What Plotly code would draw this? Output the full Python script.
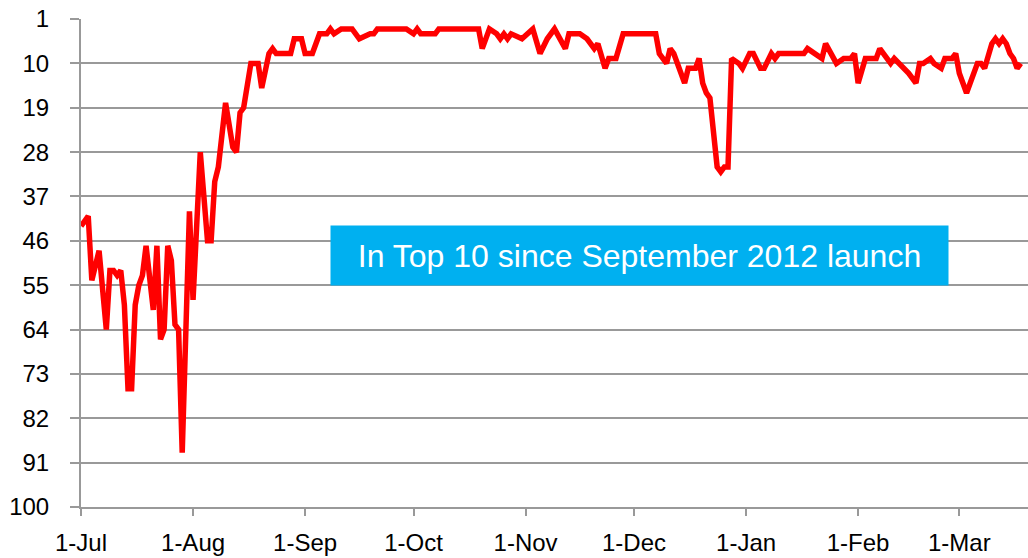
import plotly.graph_objects as go

dates = [
    "2012-07-01", "2012-07-03", "2012-07-04", "2012-07-06", "2012-07-08", "2012-07-09",
    "2012-07-10", "2012-07-11", "2012-07-12", "2012-07-13", "2012-07-14", "2012-07-15",
    "2012-07-16", "2012-07-17", "2012-07-18", "2012-07-19", "2012-07-21", "2012-07-22",
    "2012-07-23", "2012-07-24", "2012-07-25", "2012-07-26", "2012-07-27", "2012-07-28",
    "2012-07-29", "2012-07-31", "2012-08-01", "2012-08-03", "2012-08-05", "2012-08-06",
    "2012-08-07", "2012-08-08", "2012-08-10", "2012-08-12", "2012-08-13", "2012-08-14",
    "2012-08-15", "2012-08-17", "2012-08-19", "2012-08-20", "2012-08-22", "2012-08-23",
    "2012-08-24", "2012-08-28", "2012-08-29", "2012-08-31", "2012-09-01", "2012-09-03",
    "2012-09-05", "2012-09-07", "2012-09-08", "2012-09-09", "2012-09-11", "2012-09-14",
    "2012-09-16", "2012-09-19", "2012-09-20", "2012-09-21", "2012-09-29", "2012-10-01",
    "2012-10-02", "2012-10-03", "2012-10-07", "2012-10-08", "2012-10-19", "2012-10-20",
    "2012-10-22", "2012-10-24", "2012-10-25", "2012-10-26", "2012-10-27", "2012-10-28",
    "2012-10-31", "2012-11-03", "2012-11-05", "2012-11-07", "2012-11-09", "2012-11-12",
    "2012-11-13", "2012-11-16", "2012-11-18", "2012-11-20", "2012-11-21", "2012-11-23",
    "2012-11-24", "2012-11-26", "2012-11-28", "2012-11-29", "2012-12-07", "2012-12-08",
    "2012-12-10", "2012-12-11", "2012-12-12", "2012-12-15", "2012-12-16", "2012-12-18",
    "2012-12-19", "2012-12-20", "2012-12-21", "2012-12-22", "2012-12-24", "2012-12-25",
    "2012-12-26", "2012-12-27", "2012-12-28", "2012-12-30", "2012-12-31", "2013-01-02",
    "2013-01-03", "2013-01-05", "2013-01-06", "2013-01-08", "2013-01-09", "2013-01-10",
    "2013-01-17", "2013-01-18", "2013-01-20", "2013-01-22", "2013-01-23", "2013-01-25",
    "2013-01-26", "2013-01-28", "2013-01-30", "2013-01-31", "2013-02-01", "2013-02-03",
    "2013-02-04", "2013-02-06", "2013-02-07", "2013-02-09", "2013-02-10", "2013-02-11",
    "2013-02-14", "2013-02-15", "2013-02-17", "2013-02-18", "2013-02-19", "2013-02-21",
    "2013-02-22", "2013-02-24", "2013-02-25", "2013-02-27", "2013-02-28", "2013-03-01",
    "2013-03-03", "2013-03-04", "2013-03-06", "2013-03-07", "2013-03-08", "2013-03-10",
    "2013-03-11", "2013-03-12", "2013-03-13", "2013-03-14", "2013-03-15", "2013-03-16",
    "2013-03-17", "2013-03-18",
]

ranks = [
    43, 41, 54, 48, 64, 52,
    52, 53, 52, 59, 76, 76,
    59, 55, 53, 47, 60, 47,
    66, 64, 47, 50, 63, 64,
    89, 40, 58, 28, 46, 46,
    34, 31, 18, 27, 28, 20,
    19, 10, 10, 15, 8, 7,
    8, 8, 5, 5, 8, 8,
    4, 4, 3, 4, 3, 3,
    5, 4, 4, 3, 3, 4,
    3, 4, 4, 3, 3, 7,
    3, 4, 5, 4, 5, 4,
    5, 3, 8, 5, 3, 7,
    4, 4, 5, 7, 6, 11,
    9, 9, 4, 4, 4, 8,
    10, 7, 8, 14, 11, 11,
    9, 14, 16, 17, 31, 32,
    31, 31, 9, 10, 11, 8,
    8, 11, 11, 8, 9, 8,
    8, 7, 8, 9, 6, 9,
    10, 9, 9, 8, 14, 9,
    9, 9, 7, 9, 10, 9,
    11, 12, 14, 10, 10, 9,
    10, 11, 9, 9, 8, 12,
    16, 14, 10, 10, 11, 6,
    5, 6, 5, 6, 8, 9,
    11, 10,
]

annotation_text = "In Top 10 since September 2012 launch"
x_range = ["2012-07-01", "2013-03-20"]
y_range = [100, 0.99]
y_ticks = list(range(1, 101, 9))

grid_col = "#999999"
font_fam = "Liberation Sans, Arial, sans-serif"

fig = go.Figure()
fig.add_trace(go.Scatter(
    x=dates, y=ranks, mode="lines",
    line=dict(color="#ff0000", width=5.5),
    hoverinfo="x+y",
))

fig.update_layout(
    width=1028, height=558,
    margin=dict(l=81, r=0, t=19, b=51),
    paper_bgcolor="white", plot_bgcolor="white",
    showlegend=False,
    font=dict(family=font_fam, size=24, color="#000000"),
    xaxis=dict(
        type="date", range=x_range, automargin=False,
        tick0="2012-07-01", dtick="M1", tickformat="%-d-%b",
        showgrid=False, zeroline=False,
        showline=True, linecolor=grid_col, linewidth=2,
        ticks="outside", ticklen=7, tickwidth=2, tickcolor=grid_col,
        ticklabelstandoff=6, ticklabeloverflow="allow",
        tickfont=dict(family=font_fam, size=24, color="#000000"),
    ),
    yaxis=dict(
        range=y_range, tickvals=y_ticks, automargin=False,
        showgrid=True, gridcolor=grid_col, gridwidth=2,
        zeroline=False,
        showline=True, linecolor=grid_col, linewidth=2,
        ticks="outside", ticklen=9, tickwidth=2, tickcolor=grid_col,
        ticklabelstandoff=16, ticklabeloverflow="allow",
        tickfont=dict(family=font_fam, size=24, color="#000000"),
    ),
    annotations=[dict(
        text=annotation_text,
        xref="paper", yref="paper",
        x=0.5898, y=0.5159, xanchor="center", yanchor="middle",
        showarrow=False,
        width=617, height=59,
        bgcolor="#00b0f0", borderpad=0,
        font=dict(family=font_fam, size=32, color="white"),
    )],
)

fig.write_html(
    "out.html",
    config={"displayModeBar": False},
    post_script="document.body.style.margin='0px';document.body.style.padding='0px';",
)
